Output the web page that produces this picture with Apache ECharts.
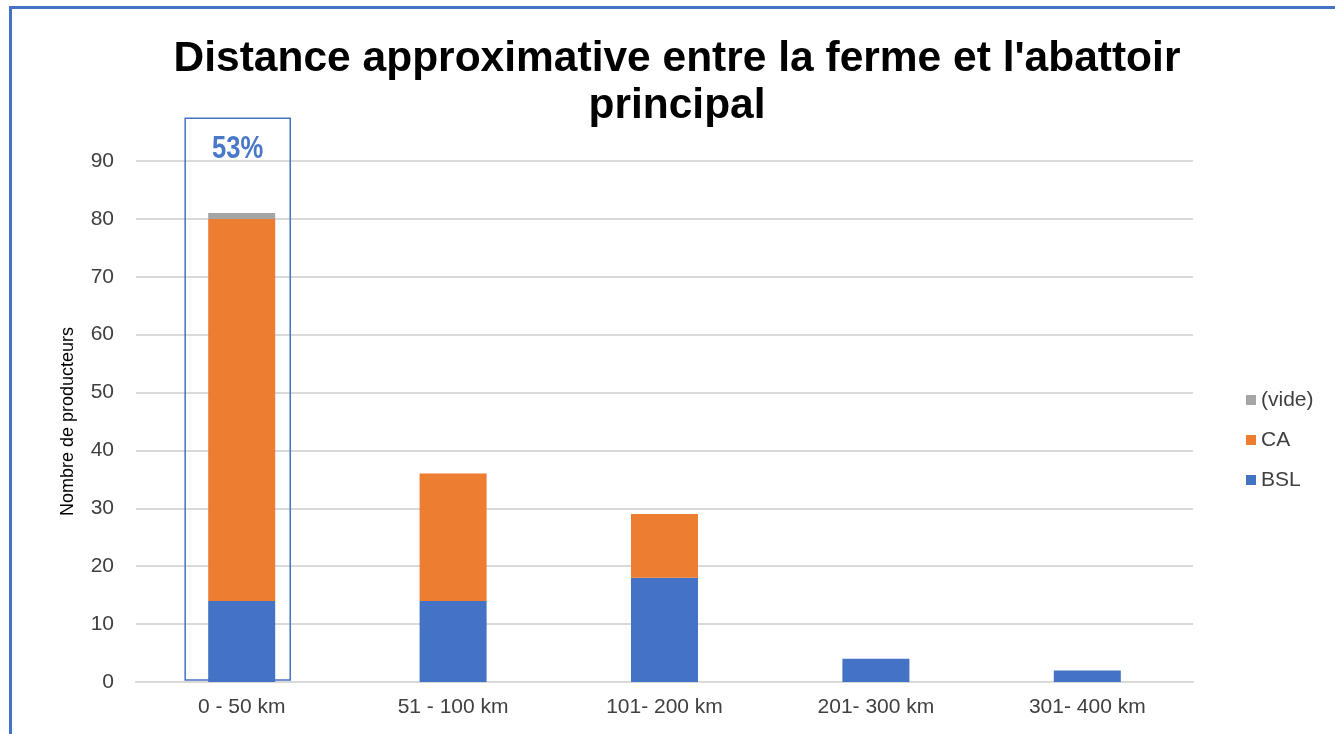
<!DOCTYPE html>
<html>
<head>
<meta charset="utf-8">
<script src="https://cdn.jsdelivr.net/npm/echarts@6/dist/echarts.min.js"></script>
<style>
html,body{margin:0;padding:0;background:#fff;}
#frame{position:absolute;left:9px;top:6px;width:1340px;height:740px;border-left:3px solid #4472C4;border-top:3px solid #4472C4;}
#chart{position:absolute;left:0;top:0;width:1335px;height:734px;}
</style>
</head>
<body>
<div id="frame"></div>
<div id="chart"></div>
<script>
const categories = ['0 - 50 km', '51 - 100 km', '101- 200 km', '201- 300 km', '301- 400 km'];
const bslValues = [14, 14, 18, 4, 2];
const caValues = [66, 22, 11, 0, 0];
const videValues = [1, 0, 0, 0, 0];
const highlightCategoryIndex = 0;
const highlightTop = 97.4;
const highlightLabel = '53%';
const yTicks = [0, 10, 20, 30, 40, 50, 60, 70, 80, 90];

const FONT = "'Liberation Sans', Arial, sans-serif";
const chart = echarts.init(document.getElementById('chart'), null, {renderer: 'canvas'});

function zeroToNull(a){ return a.map(v => v === 0 ? null : v); }

const option = {
  backgroundColor: 'transparent',
  animation: false,
  title: {
    text: "Distance approximative entre la ferme et l'abattoir\nprincipal",
    left: 672,
    top: 31,
    textAlign: 'center',
    textStyle: {fontFamily: FONT, fontWeight: 'bold', fontSize: 42.5, lineHeight: 47, color: '#000'}
  },
  legend: {
    orient: 'vertical',
    left: 1241,
    top: 383,
    data: ['(vide)', 'CA', 'BSL'],
    itemWidth: 10,
    itemHeight: 10,
    itemGap: 16,
    icon: 'rect',
    textStyle: {fontFamily: FONT, fontSize: 21, color: '#404040', lineHeight: 24}
  },
  grid: {left: 136, right: 142, top: 161, bottom: 52, containLabel: false},
  xAxis: {
    type: 'category',
    data: categories,
    axisLine: {lineStyle: {color: '#d9d9d9', width: 2}},
    axisTick: {show: false},
    axisLabel: {fontFamily: FONT, fontSize: 21, color: '#404040', margin: 15}
  },
  yAxis: {
    type: 'value',
    min: yTicks[0],
    max: yTicks[yTicks.length - 1],
    interval: yTicks[1] - yTicks[0],
    name: 'Nombre de producteurs',
    nameLocation: 'middle',
    nameRotate: 90,
    nameGap: 59,
    nameTextStyle: {fontFamily: FONT, fontSize: 18, color: '#000'},
    axisLine: {show: false},
    axisTick: {show: false},
    splitLine: {lineStyle: {color: '#d9d9d9', width: 2}},
    axisLabel: {fontFamily: FONT, fontSize: 21, color: '#404040', margin: 22}
  },
  series: [
    {name: 'BSL', type: 'bar', stack: 'total', barWidth: '31.7%', data: zeroToNull(bslValues), itemStyle: {color: '#4472C4'}},
    {name: 'CA', type: 'bar', stack: 'total', barWidth: '31.7%', data: zeroToNull(caValues), itemStyle: {color: '#ED7D31'}},
    {name: '(vide)', type: 'bar', stack: 'total', barWidth: '31.7%', data: zeroToNull(videValues), itemStyle: {color: '#A5A5A5'}},
    {
      name: 'highlight',
      type: 'custom',
      silent: true,
      z: 10,
      data: [[highlightCategoryIndex, highlightTop]],
      renderItem: function (params, api) {
        const top = api.coord([api.value(0), api.value(1)]);
        const bottom = api.coord([api.value(0), 0]);
        const band = api.size([1, 0])[0];
        const w = band * 0.497;
        const cx = top[0] - 4;
        return {
          type: 'group',
          children: [
            {type: 'rect', shape: {x: cx - w / 2, y: top[1], width: w, height: bottom[1] - top[1] - 2},
             style: {fill: 'none', stroke: '#4472C4', lineWidth: 1.5}},
            {type: 'text', x: cx, y: top[1] + 31, scaleX: 0.8,
             style: {text: highlightLabel, fill: '#4A78C8', font: "bold 32px 'Liberation Sans', Arial, sans-serif", align: 'center', verticalAlign: 'middle'}}
          ]
        };
      }
    }
  ]
};
chart.setOption(option);
</script>
</body>
</html>
